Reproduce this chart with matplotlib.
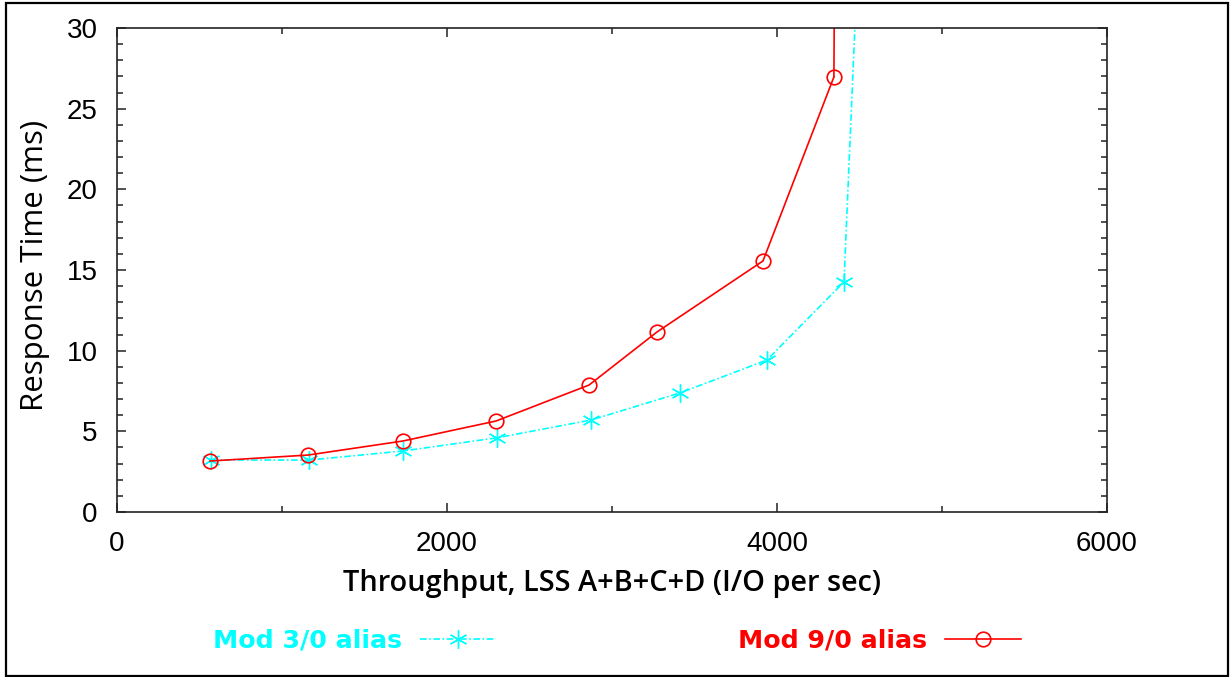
import numpy as np
import matplotlib.pyplot as plt
from matplotlib.patches import Rectangle
from matplotlib.ticker import MultipleLocator

plt.rcParams['font.family'] = ['Liberation Sans', 'DejaVu Sans']

# throughput (I/O per sec) and response time (ms)
mod3_x = [570, 1164, 1733, 2303, 2873, 3412, 3939, 4406, 4515]
mod3_y = [3.22, 3.22, 3.78, 4.6, 5.7, 7.38, 9.42, 14.26, 40.3]
mod9_x = [564, 1158, 1733, 2297, 2861, 3273, 3915, 4345, 4352]
mod9_y = [3.16, 3.53, 4.4, 5.64, 7.87, 11.16, 15.56, 26.97, 40.0]

labels = ['Mod 3/0 alias', 'Mod 9/0 alias']
colors = ['#00ffff', '#ff0000']

fig = plt.figure(figsize=(12.3, 6.77), dpi=100)
ax = fig.add_axes([117/1230, 1-512/677, 990/1230, 484/677])

l1, = ax.plot(mod3_x, mod3_y, color=colors[0], lw=1.2,
              linestyle=(0, (4, 1.5, 1, 1.5)),
              marker=(6, 2, 0), markersize=13, markeredgewidth=1.0)
l2, = ax.plot(mod9_x[:-1], mod9_y[:-1], color=colors[1], lw=1.2,
              marker='o', markersize=10.5, markerfacecolor='none',
              markeredgewidth=1.2)
# last point is off the top of the chart, draw the line only
ax.plot(mod9_x[-2:], mod9_y[-2:], color=colors[1], lw=1.2)

ax.set_xlim(0, 6000)
ax.set_ylim(0, 30)
ax.xaxis.set_major_locator(MultipleLocator(2000))
ax.xaxis.set_minor_locator(MultipleLocator(1000))
ax.yaxis.set_major_locator(MultipleLocator(5))
ax.yaxis.set_minor_locator(MultipleLocator(1))
ax.tick_params(which='both', direction='in', top=True, right=True,
               width=1.1, color='#222222', labelsize=20, pad=14)
ax.tick_params(which='major', length=6.5)
ax.tick_params(which='minor', length=4.3)
for s in ax.spines.values():
    s.set_linewidth(1.2)
    s.set_color('#222222')

fig.text(612/1230, 1-583/677, 'Throughput, LSS A+B+C+D (I/O per sec)',
         ha='center', va='center', fontsize=20.8,
         family=['Open Sans', 'DejaVu Sans'], weight='semibold')
fig.text(35/1230, 1-265/677, 'Response Time (ms)', rotation=90,
         ha='center', va='center', fontsize=22.5,
         family=['Open Sans', 'DejaVu Sans'])

leg = fig.legend([l1, l2], labels, ncol=2, markerfirst=False, frameon=False,
                 loc='center left', bbox_to_anchor=(213/1230, 1-641/677),
                 borderpad=0, borderaxespad=0, handlelength=3.0,
                 handletextpad=0.7, columnspacing=9.6,
                 prop={'family': 'DejaVu Sans', 'weight': 'bold', 'size': 18.2})
for t, c in zip(leg.get_texts(), colors):
    t.set_color(c)

fig.patches.append(Rectangle((6/1230, 1-676/677), 1222/1230, 673/677,
                             transform=fig.transFigure, fill=False,
                             edgecolor='black', lw=1.6))

plt.savefig('out.png', dpi=100)
